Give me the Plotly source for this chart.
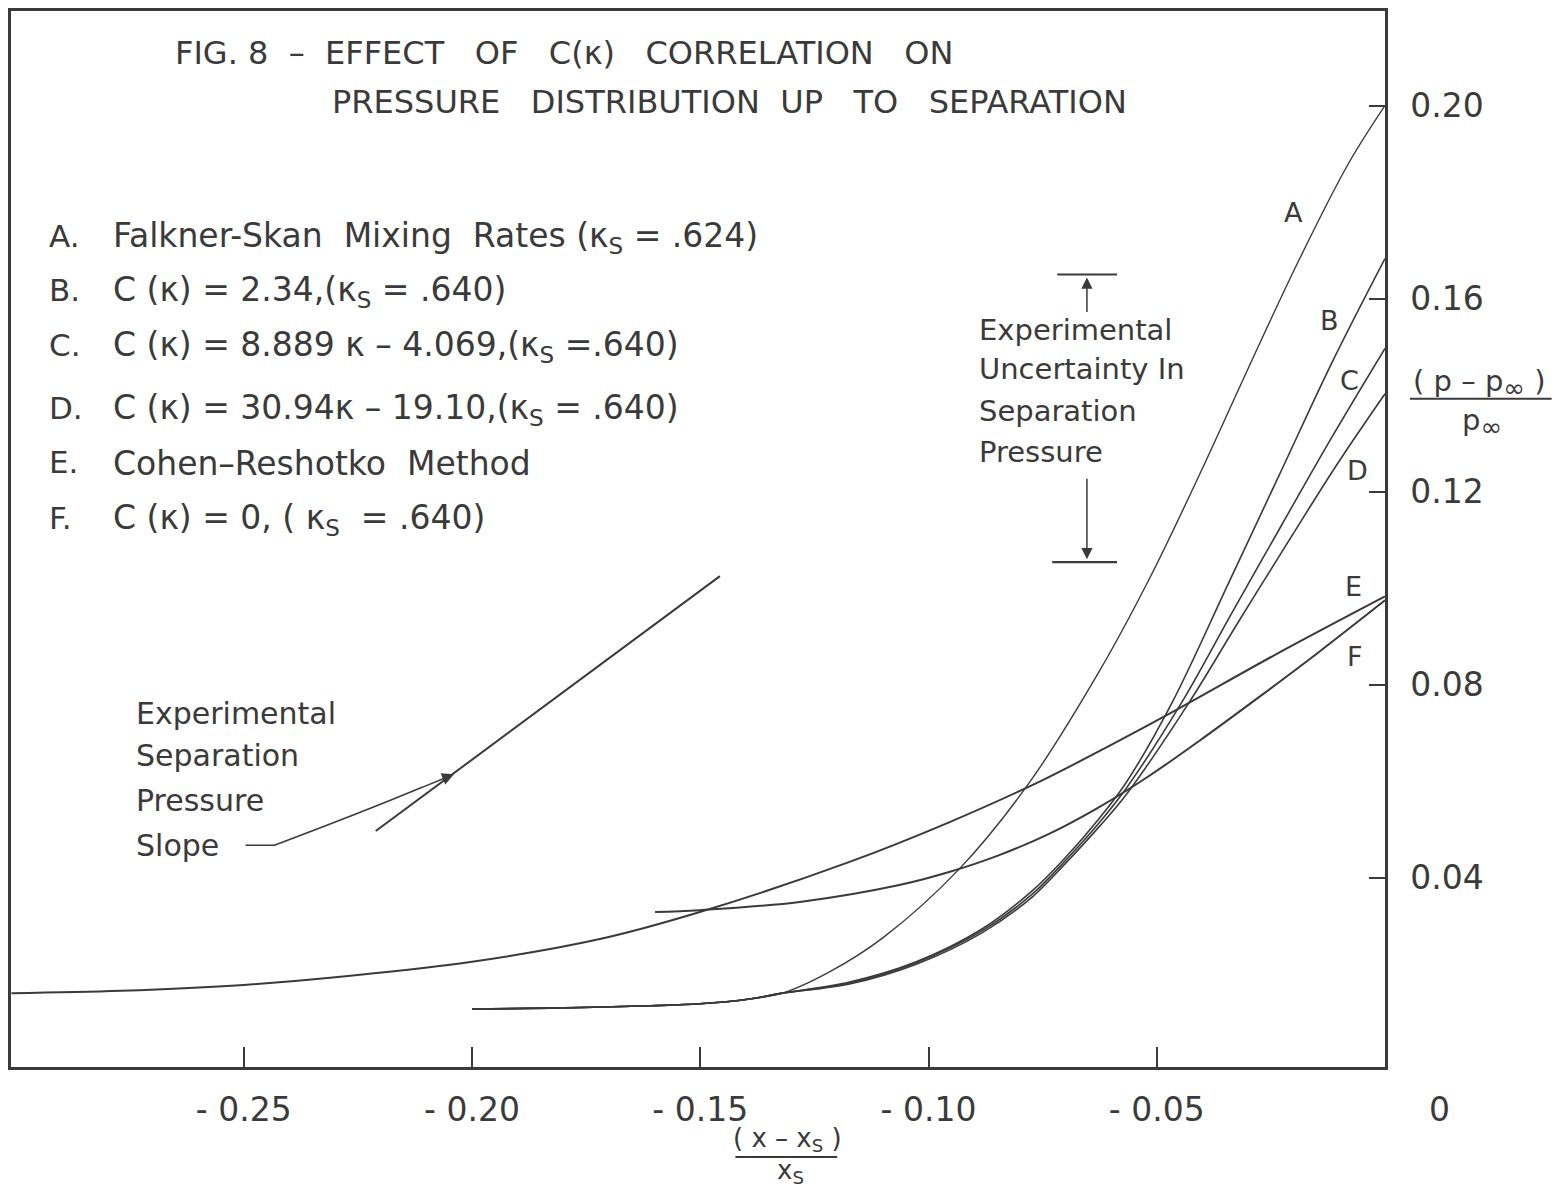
import plotly.graph_objects as go

# ---------------- data ----------------
# A. Falkner-Skan mixing rates
xA = [-0.2000, -0.1829, -0.1610, -0.1501, -0.1392, -0.1320, -0.1217, -0.1101, -0.0933,
      -0.0780, -0.0627, -0.0517, -0.0408, -0.0299, -0.0190, -0.0080, 0.0]
yA = [0.0128, 0.0130, 0.0135, 0.0139, 0.0149, 0.0161, 0.0205, 0.0275, 0.0418,
      0.0596, 0.0826, 0.1018, 0.1232, 0.1457, 0.1677, 0.1880, 0.2000]
# B. C(k) = 2.34
xB = [-0.2000, -0.1829, -0.1610, -0.1501, -0.1392, -0.1320, -0.1173, -0.1027, -0.0883,
      -0.0773, -0.0699, -0.0627, -0.0568, -0.0467, -0.0343, -0.0227, -0.0117, 0.0]
yB = [0.0128, 0.0130, 0.0135, 0.0139, 0.0149, 0.0161, 0.0184, 0.0226, 0.0294,
      0.0373, 0.0443, 0.0522, 0.0596, 0.0762, 0.1010, 0.1244, 0.1466, 0.1683]
# C. C(k) = 8.889k - 4.069
xC = [-0.2000, -0.1829, -0.1610, -0.1501, -0.1392, -0.1320, -0.1173, -0.1027, -0.0883,
      -0.0773, -0.0699, -0.0627, -0.0568, -0.0445, -0.0336, -0.0227, -0.0117, 0.0]
yC = [0.0128, 0.0130, 0.0135, 0.0139, 0.0149, 0.0161, 0.0182, 0.0224, 0.0290,
      0.0366, 0.0437, 0.0513, 0.0584, 0.0764, 0.0948, 0.1130, 0.1312, 0.1497]
# D. C(k) = 30.94k - 19.10
xD = [-0.2000, -0.1829, -0.1610, -0.1501, -0.1392, -0.1320, -0.1173, -0.1027, -0.0883,
      -0.0773, -0.0699, -0.0627, -0.0568, -0.0430, -0.0322, -0.0213, -0.0102, 0.0]
yD = [0.0128, 0.0130, 0.0135, 0.0139, 0.0149, 0.0161, 0.0180, 0.0221, 0.0286,
      0.0360, 0.0431, 0.0505, 0.0571, 0.0762, 0.0929, 0.1095, 0.1261, 0.1403]
# E. Cohen-Reshotko method
xE = [-0.3009, -0.2769, -0.2500, -0.2266, -0.2000, -0.1720, -0.1501, -0.1173, -0.0955,
      -0.0751, -0.0605, -0.0459, -0.0235, 0.0]
yE = [0.0161, 0.0166, 0.0178, 0.0197, 0.0226, 0.0273, 0.0329, 0.0433, 0.0515,
      0.0602, 0.0673, 0.0747, 0.0865, 0.0983]
# F. C(k) = 0
xF = [-0.1599, -0.1501, -0.1282, -0.1064, -0.0955, -0.0845, -0.0736, -0.0627, -0.0517,
      -0.0408, -0.0271, -0.0146, 0.0]
yF = [0.0329, 0.0333, 0.0350, 0.0385, 0.0412, 0.0447, 0.0491, 0.0546, 0.0611,
      0.0683, 0.0778, 0.0867, 0.0975]

# experimental separation pressure slope
slope_x = [-0.2211, -0.1457]
slope_y = [0.0497, 0.1025]
# experimental uncertainty in separation pressure
unc_x_center = -0.0653
unc_top_x = [-0.0718, -0.0587]
unc_top_y = 0.1650
unc_bot_x = [-0.0729, -0.0587]
unc_bot_y = 0.1054

x_tickvals = [-0.25, -0.20, -0.15, -0.10, -0.05]
x_ticktext = ['- 0.25', '- 0.20', '- 0.15', '- 0.10', '- 0.05']
y_tickvals = [0.04, 0.08, 0.12, 0.16, 0.20]
y_ticktext = ['0.04', '0.08', '0.12', '0.16', '0.20']

curve_labels = ['A', 'B', 'C', 'D', 'E', 'F']
legend_text = [
    'Falkner-Skan  Mixing  Rates (κ<sub>S</sub> = .624)',
    'C (κ) = 2.34,(κ<sub>S</sub> = .640)',
    'C (κ) = 8.889 κ – 4.069,(κ<sub>S</sub> =.640)',
    'C (κ) = 30.94κ – 19.10,(κ<sub>S</sub> = .640)',
    'Cohen–Reshotko  Method',
    'C (κ) = 0, ( κ<sub>S</sub>  = .640)',
]

# ---------------- styling / layout ----------------
INK = '#3a3a3a'
FONT = 'DejaVu Sans'
W, H = 1564, 1189
L, R, T, B = 8, 1385, 10, 1067


def px(xp):
    return (xp - L) / (R - L)


def py(yp):
    return (B - yp) / (B - T)


fig = go.Figure()

series = [(xA, yA, 1.4), (xB, yB, 1.6), (xC, yC, 1.6), (xD, yD, 1.6), (xE, yE, 2.0), (xF, yF, 2.0)]
for (xs, ys, lw), name in zip(series, curve_labels):
    fig.add_trace(go.Scatter(x=xs, y=ys, mode='lines', name=name,
                             line=dict(color=INK, width=lw, shape='spline', smoothing=1.0),
                             showlegend=False, hoverinfo='skip'))

fig.add_trace(go.Scatter(x=slope_x, y=slope_y, mode='lines', line=dict(color=INK, width=2),
                         showlegend=False, hoverinfo='skip'))
fig.add_trace(go.Scatter(x=unc_top_x, y=[unc_top_y, unc_top_y], mode='lines',
                         line=dict(color=INK, width=2.2), showlegend=False, hoverinfo='skip'))
fig.add_trace(go.Scatter(x=unc_bot_x, y=[unc_bot_y, unc_bot_y], mode='lines',
                         line=dict(color=INK, width=2.2), showlegend=False, hoverinfo='skip'))

ann = []


def txt(s, x, y, size=30, xa='left', ya='middle'):
    ann.append(dict(text=s, x=px(x), y=py(y), xref='paper', yref='paper', showarrow=False,
                    xanchor=xa, yanchor=ya, font=dict(family=FONT, size=size, color=INK)))


# title
txt('FIG. 8  –  EFFECT   OF   C(κ)   CORRELATION   ON', 170, 52, 32)
txt('PRESSURE   DISTRIBUTION  UP   TO   SEPARATION', 328, 101, 32)

# legend block
leg_y = [237, 291, 346, 409, 463, 519]
for lab, s, yy in zip(curve_labels, legend_text, leg_y):
    txt(lab + '.', 44, yy - 2, 31)
    txt(s, 108, yy, 33)

# curve letters
for lab, (xx, yy) in zip(curve_labels, [(1293, 212), (1329, 320), (1349, 380), (1357, 470),
                                         (1353, 586), (1355, 656)]):
    txt(lab, xx, yy, 27, xa='center')

# uncertainty text
for s, yy in zip(['Experimental', 'Uncertainty In', 'Separation', 'Pressure'], [329, 368, 410, 451]):
    txt(s, 976, yy, 29)

# slope text
for s, yy in zip(['Experimental', 'Separation', 'Pressure', 'Slope'], [713, 755, 800, 845]):
    txt(s, 131, yy, 30)

# "0" at the separation point
txt('0', 1440, 1110, 33, xa='center')

# y axis title (fraction)
inf = '<span style="font-size:26px">∞</span>'
txt('( p – p<sub>' + inf + '</sub> )', 1480, 383, 29, xa='center')
txt('p<sub>' + inf + '</sub>', 1482, 422, 29, xa='center')
# x axis title (fraction)
txt('( x – x<sub>S</sub> )', 786, 1140, 26, xa='center')
txt('x<sub>S</sub>', 789, 1172, 26, xa='center')

# arrows
arrow_font = dict(family=FONT, size=10, color=INK)
ann.append(dict(x=unc_x_center, y=unc_top_y - 0.0006, xref='x', yref='y', ax=0, ay=36,
                showarrow=True, arrowhead=2, arrowsize=1.5, arrowwidth=1.5, arrowcolor=INK,
                text='', font=arrow_font))
ann.append(dict(x=unc_x_center, y=unc_bot_y + 0.0006, xref='x', yref='y', ax=0, ay=-82,
                showarrow=True, arrowhead=2, arrowsize=1.5, arrowwidth=1.5, arrowcolor=INK,
                text='', font=arrow_font))
ann.append(dict(x=px(452), y=py(774), xref='paper', yref='paper', ax=-34, ay=14,
                showarrow=True, arrowhead=2, arrowsize=1.6, arrowwidth=1.5, arrowcolor=INK,
                text='', font=arrow_font))

shapes = [
    # leader from "Slope" to arrow
    dict(type='path', xref='paper', yref='paper',
         path=f'M {px(243)},{py(845)} L {px(272)},{py(845)} Q {px(360)},{py(812)} {px(420)},{py(787)}',
         line=dict(color=INK, width=1.5)),
    # fraction bars
    dict(type='line', xref='paper', yref='paper', x0=px(1410), x1=px(1552), y0=py(398), y1=py(398),
         line=dict(color=INK, width=2)),
    dict(type='line', xref='paper', yref='paper', x0=px(734), x1=px(836), y0=py(1157), y1=py(1157),
         line=dict(color=INK, width=2)),
]

fig.update_layout(
    width=W, height=H,
    margin=dict(l=L, r=W - R, t=T, b=H - B),
    paper_bgcolor='white', plot_bgcolor='white',
    font=dict(family=FONT, color=INK),
    annotations=ann, shapes=shapes,
    xaxis=dict(range=[-0.3010, 0.0], showgrid=False, zeroline=False, showline=True, mirror=True,
               linecolor=INK, linewidth=2.5, ticks='inside', ticklen=20, tickwidth=2, tickcolor=INK,
               tickvals=x_tickvals, ticktext=x_ticktext, tickfont=dict(size=33, family=FONT, color=INK),
               ticklabelstandoff=12),
    yaxis=dict(range=[0.0008, 0.2196], side='right', showgrid=False, zeroline=False, showline=True,
               mirror=True, linecolor=INK, linewidth=2.5, ticks='inside', ticklen=16, tickwidth=2,
               tickcolor=INK, tickvals=y_tickvals, ticktext=y_ticktext,
               tickfont=dict(size=33, family=FONT, color=INK), ticklabelstandoff=16),
)

fig.write_html('out.html')
